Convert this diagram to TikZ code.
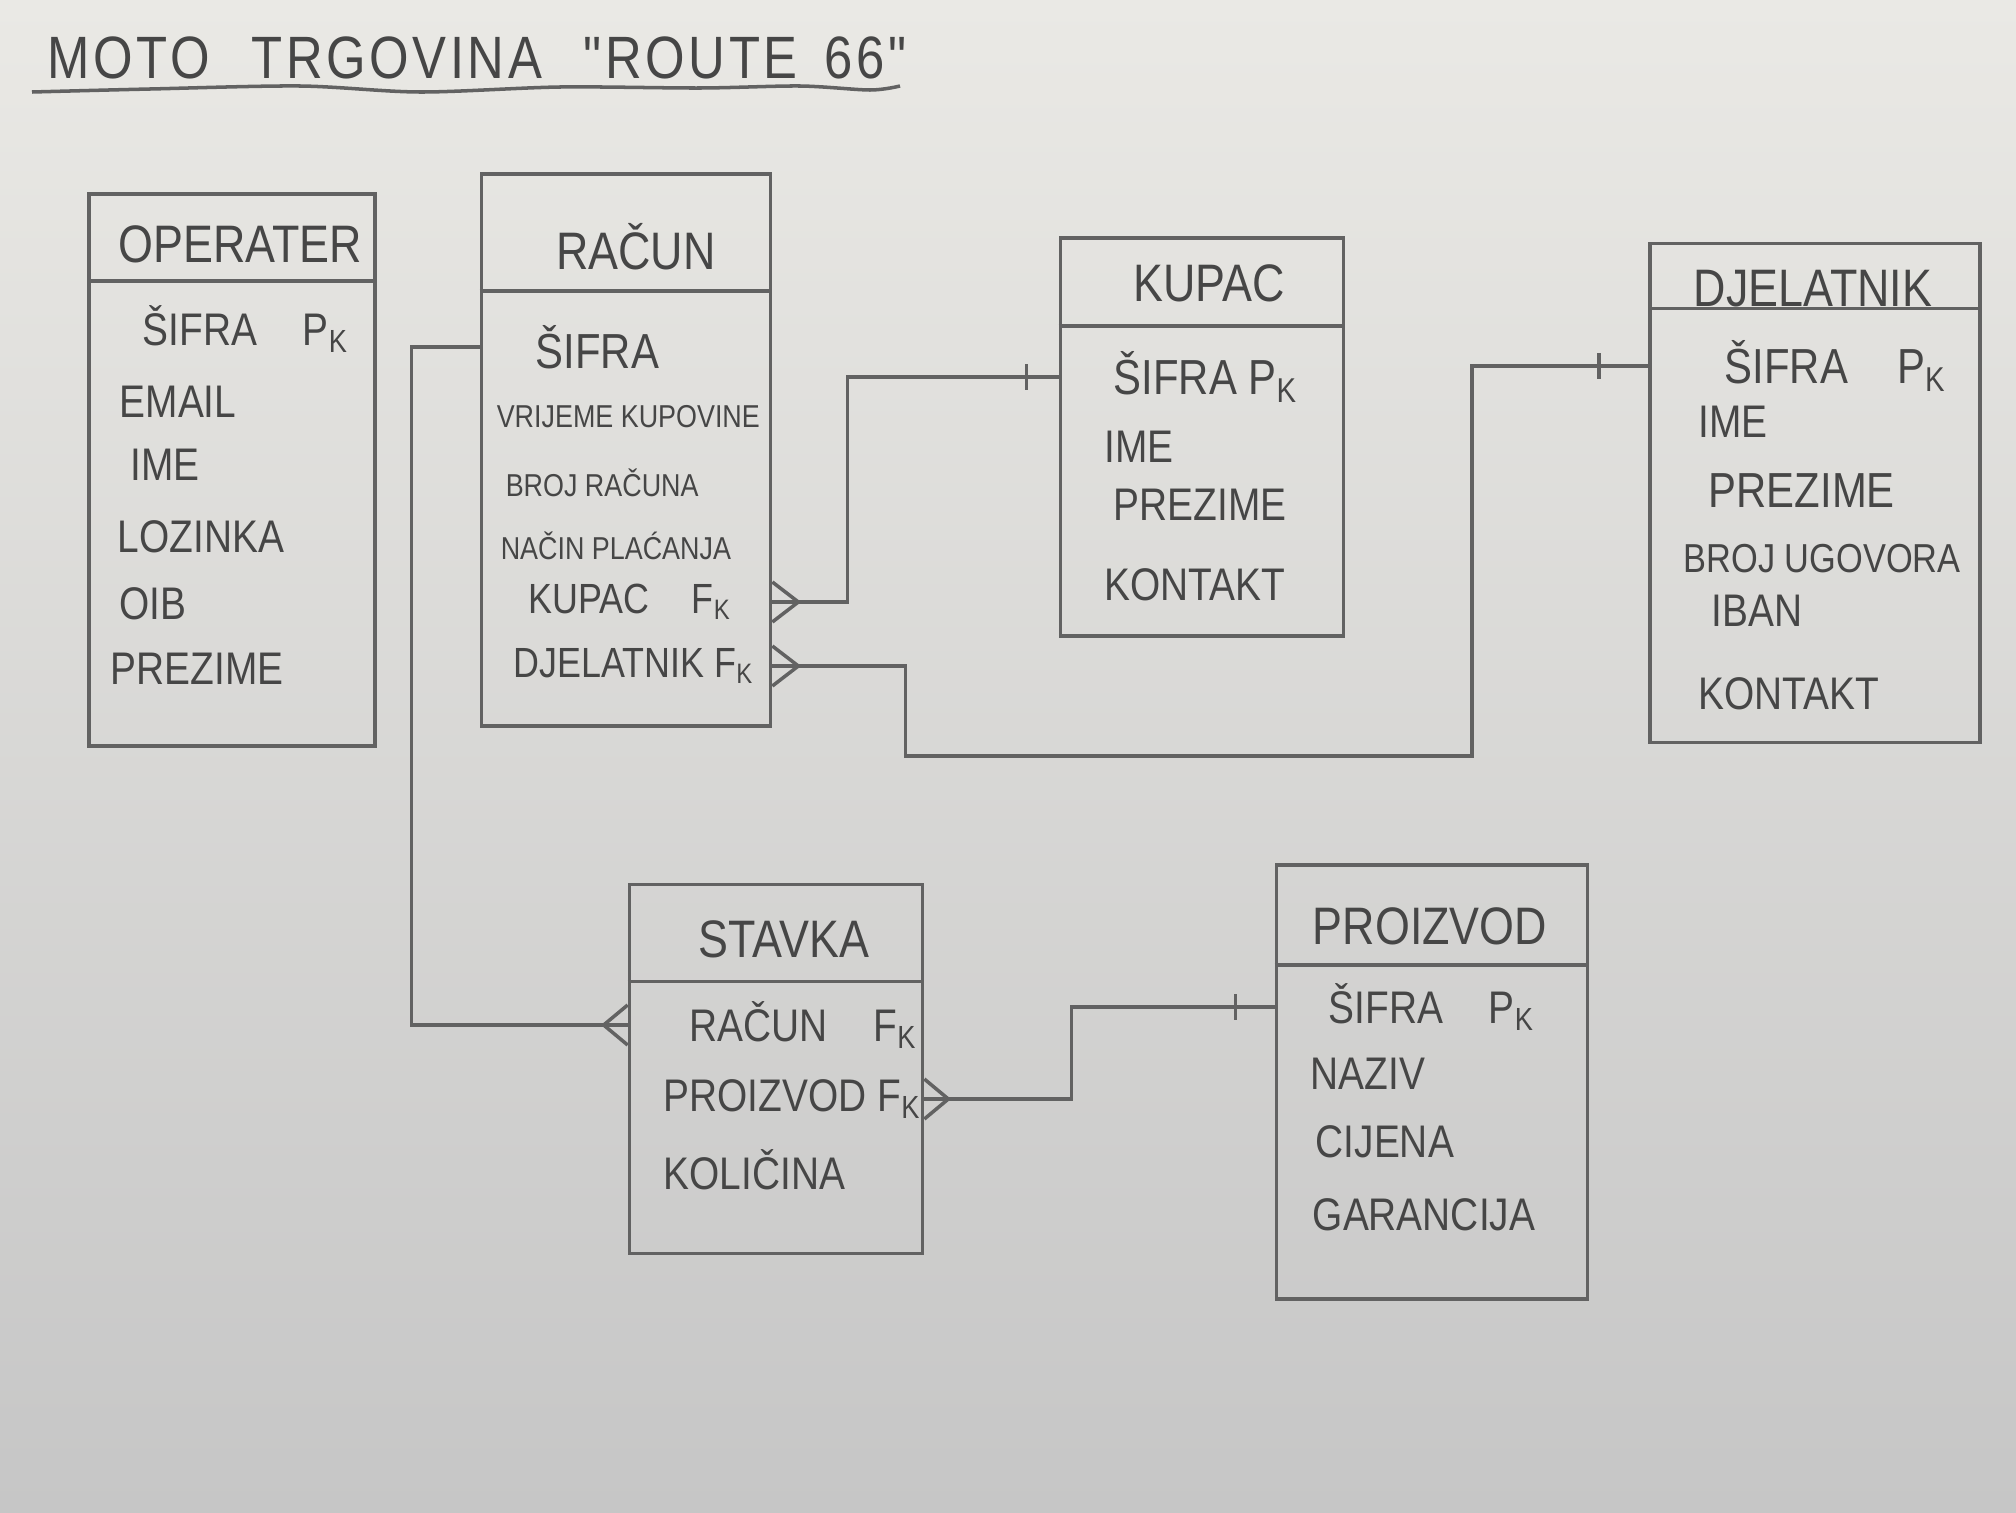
\documentclass[tikz,border=0pt]{standalone}
\usepackage{fontspec}
\setmainfont{Liberation Sans}[FakeStretch=0.85]
\newfontfamily\headingfont{Liberation Sans}[FakeStretch=0.85, LetterSpace=6]
\definecolor{pencil}{RGB}{98,98,98}
\definecolor{lead}{RGB}{70,70,70}
\definecolor{paperTop}{RGB}{234,233,229}
\definecolor{paperBot}{RGB}{198,198,198}

\begin{document}
\begin{tikzpicture}[x=0.01cm, y=-0.01cm, line width=1pt, color=pencil,
    entity/.style={draw=pencil, rectangle, inner sep=0pt},
    tabletitle/.style={text=lead, font=\fontsize{15}{18}\selectfont},
    attr/.style={text=lead, anchor=west, inner sep=0pt, font=\fontsize{13}{16}\selectfont},
    attrsmall/.style={attr, font=\fontsize{9}{11}\selectfont}]

  % -- Paper --
  \fill[top color=paperTop, bottom color=paperBot] (0,0) rectangle (2016,1512);
  \useasboundingbox (0,0) rectangle (2016,1512);

  % -- Heading --
  \node[anchor=west, text=lead, font=\headingfont\fontsize{17}{20}\selectfont] (heading) at (34,58)
    {MOTO\hspace{0.7em}TRGOVINA\hspace{0.7em}"ROUTE\hspace{0.45em}66"};
  \draw plot[smooth] coordinates {(32,92) (150,89) (300,86) (420,92) (560,87) (700,88) (800,86) (870,90) (900,86)};

  % -- OPERATER --
  \node[entity, minimum width=2.86cm, minimum height=5.52cm] (operater) at (232,470) {};
  \draw (operater.north west) ++(0,89) -- ++(286,0);
  \node[tabletitle] (operatertitle) at (240,244) {OPERATER};
  \node[attr] (osifra) at (141,329) {ŠIFRA\quad P\textsubscript{K}};
  \node[attr] (oemail) at (118,402) {EMAIL};
  \node[attr] (oime) at (129,465) {IME};
  \node[attr] (olozinka) at (116,537) {LOZINKA};
  \node[attr] (ooib) at (118,604) {OIB};
  \node[attr] (oprezime) at (109,669) {PREZIME};

  % -- RACUN --
  \node[entity, minimum width=2.89cm, minimum height=5.52cm] (racun) at (626,450) {};
  \draw (racun.north west) ++(0,119) -- ++(289,0);
  \node[tabletitle] (racuntitle) at (636,247) {RAČUN};
  \node[attr, font=\fontsize{14}{16}\selectfont] (rsifra) at (534,347) {ŠIFRA};
  \node[attrsmall] (rvrijeme) at (495,417) {VRIJEME KUPOVINE};
  \node[attrsmall] (rbroj) at (504,483) {BROJ RAČUNA};
  \node[attrsmall] (rnacin) at (499,546) {NAČIN PLAĆANJA};
  \node[attr, font=\fontsize{12}{14}\selectfont] (rkupac) at (527,602) {KUPAC\quad F\textsubscript{K}};
  \node[attr, font=\fontsize{12}{14}\selectfont] (rdjel) at (512,666) {DJELATNIK F\textsubscript{K}};

  % -- KUPAC --
  \node[entity, minimum width=2.83cm, minimum height=3.98cm] (kupac) at (1202,437) {};
  \draw (kupac.north west) ++(0,90) -- ++(283,0);
  \node[tabletitle] (kupactitle) at (1209,283) {KUPAC};
  \node[attr, font=\fontsize{14}{16}\selectfont] (ksifra) at (1112,377) {ŠIFRA P\textsubscript{K}};
  \node[attr] (kime) at (1103,447) {IME};
  \node[attr] (kprezime) at (1112,505) {PREZIME};
  \node[attr] (kkontakt) at (1103,585) {KONTAKT};

  % -- DJELATNIK --
  \node[entity, minimum width=3.30cm, minimum height=4.99cm] (djelatnik) at (1815,493) {};
  \draw (djelatnik.north west) ++(0,67) -- ++(330,0);
  \node[tabletitle] (djelatniktitle) at (1813,289) {DJELATNIK};
  \node[attr, font=\fontsize{14}{16}\selectfont] (dsifra) at (1723,366) {ŠIFRA\quad P\textsubscript{K}};
  \node[attr] (dime) at (1697,422) {IME};
  \node[attr, font=\fontsize{14}{16}\selectfont] (dprezime) at (1707,491) {PREZIME};
  \node[attr, font=\fontsize{11.5}{14}\selectfont] (dbroj) at (1682,559) {BROJ UGOVORA};
  \node[attr] (diban) at (1710,611) {IBAN};
  \node[attr] (dkontakt) at (1697,694) {KONTAKT};

  % -- STAVKA --
  \node[entity, minimum width=2.93cm, minimum height=3.69cm] (stavka) at (776,1069) {};
  \draw (stavka.north west) ++(0,99) -- ++(293,0);
  \node[tabletitle] (stavkatitle) at (784,939) {STAVKA};
  \node[attr] (sracun) at (688,1025) {RAČUN\quad F\textsubscript{K}};
  \node[attr] (sproizvod) at (662,1099) {PROIZVOD F\textsubscript{K}};
  \node[attr] (skolicina) at (662,1170) {KOLIČINA};

  % -- PROIZVOD --
  \node[entity, minimum width=3.11cm, minimum height=4.34cm] (proizvod) at (1432,1082) {};
  \draw (proizvod.north west) ++(0,102) -- ++(311,0);
  \node[tabletitle] (proizvodtitle) at (1430,926) {PROIZVOD};
  \node[attr] (psifra) at (1327,1007) {ŠIFRA\quad P\textsubscript{K}};
  \node[attr] (pnaziv) at (1309,1074) {NAZIV};
  \node[attr] (pcijena) at (1314,1142) {CIJENA};
  \node[attr] (pgarancija) at (1311,1215) {GARANCIJA};

  % -- Racun - Stavka --
  \draw (racun.west |- rsifra) -- ++(-68,0) |- (stavka.west |- sracun);
  \draw (stavka.west |- sracun) ++(0,-20) -- ++(-24,20) -- ++(24,20);

  % -- Racun - Kupac --
  \draw (racun.east |- rkupac) -- ++(75,0) |- (kupac.west |- ksifra);
  \draw (racun.east |- rkupac) ++(0,-20) -- ++(26,20) -- ++(-26,20);
  \draw (kupac.west |- ksifra) ++(-32,-13) -- ++(0,26);

  % -- Racun - Djelatnik --
  \coordinate (loopcorner) at (1472,756);
  \draw (racun.east |- rdjel) -- ++(133,0) |- (loopcorner) |- (djelatnik.west |- dsifra);
  \draw (racun.east |- rdjel) ++(0,-20) -- ++(26,20) -- ++(-26,20);
  \draw (djelatnik.west |- dsifra) ++(-49,-13) -- ++(0,26);

  % -- Stavka - Proizvod --
  \draw (stavka.east |- sproizvod) -- ++(147,0) |- (proizvod.west |- psifra);
  \draw (stavka.east |- sproizvod) ++(0,-20) -- ++(24,20) -- ++(-24,20);
  \draw (proizvod.west |- psifra) ++(-39,-13) -- ++(0,26);

\end{tikzpicture}
\end{document}
